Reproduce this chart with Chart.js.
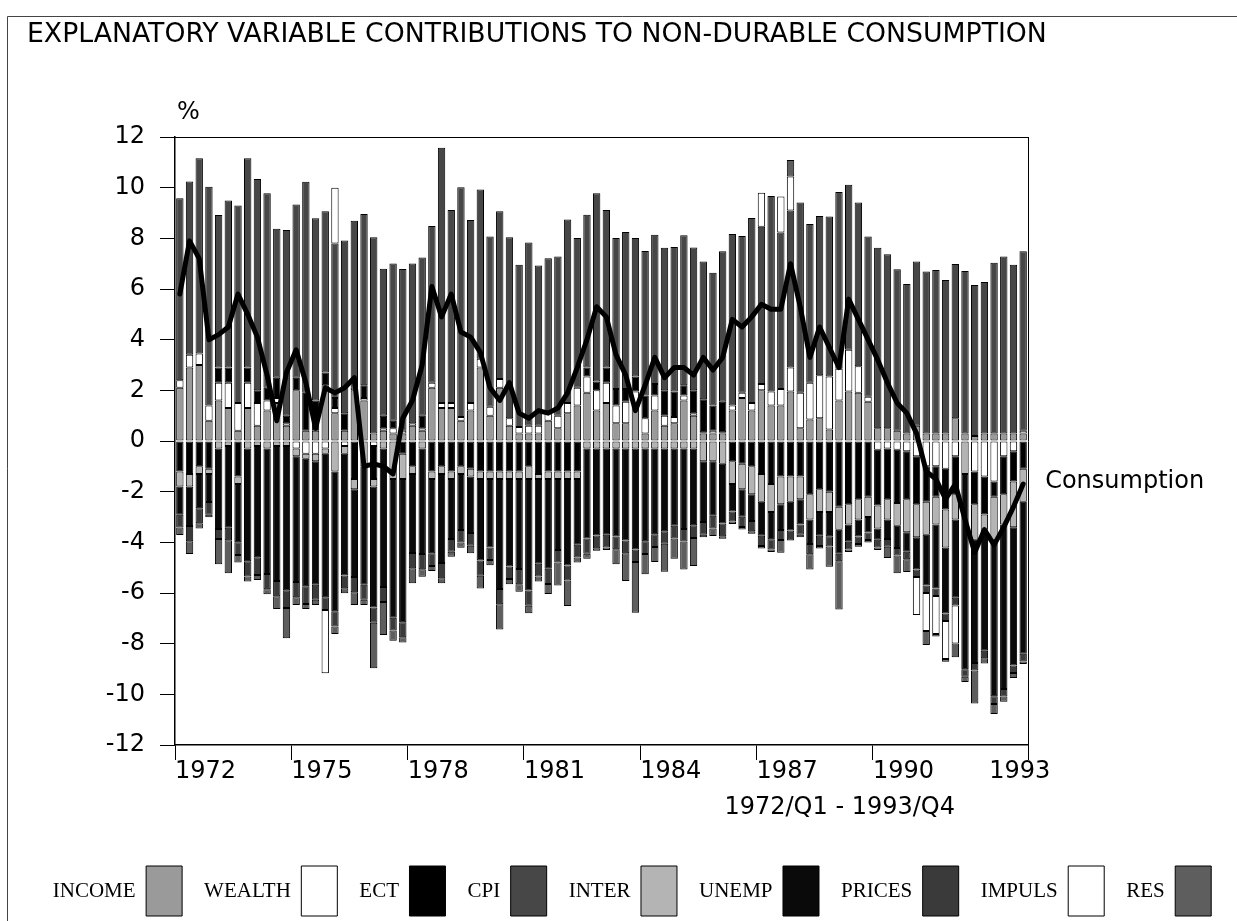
<!DOCTYPE html>
<html>
<head>
<meta charset="utf-8">
<title>Explanatory variable contributions to non-durable consumption</title>
<script src="https://cdn.jsdelivr.net/npm/chart.js@4.4.0/dist/chart.umd.min.js"></script>
<style>
  html, body { margin: 0; padding: 0; background: #fff; }
  canvas { display: block; }
</style>
</head>
<body>
<canvas id="chart" width="1237" height="921"></canvas>
<script>
// quarters 1972/Q1 - 1993/Q4
const years = ['1972', '1973', '1974', '1975', '1976', '1977', '1978', '1979', '1980', '1981', '1982',
  '1983', '1984', '1985', '1986', '1987', '1988', '1989', '1990', '1991', '1992', '1993'];
const quarters = ['Q1', 'Q2', 'Q3', 'Q4'];
const categories = years.flatMap(y => quarters.map(q => y + '/' + q));

// x tick labels (first quarter of every third year)
const yearLabels = ['1972', '1975', '1978', '1981', '1984', '1987', '1990', '1993'];
const yearTickPos = [0, 12, 24, 36, 48, 60, 72, 84];

// contributions, percentage points
const income = [2.1, 2.9, 3.0, 0.8, 1.6, 1.3, 0.4, 1.3, 0.6, 1.2,
  1.5, 0.6, 2.0, 0.4, 0.4, 2.2, 1.1, 0.4, 2.0, 1.6,
  0.3, 0.4, 0.3, 0.3, 0.6, 0.4, 2.1, 1.3, 1.3, 0.8,
  1.2, 2.9, 1.0, 2.1, 0.6, 0.3, 0.3, 0.3, 0.8, 0.5,
  1.1, 1.4, 1.9, 1.2, 1.5, 0.7, 0.7, 1.35, 0.3, 1.2,
  0.6, 0.7, 1.6, 1.0, 0.3, 0.3, 0.3, 1.2, 1.7, 1.2,
  2.0, 1.4, 1.4, 1.95, 0.5, 0.85, 0.9, 0.45, 1.6, 1.95,
  1.9, 1.55, 0.5, 0.5, 0.4, 0.3, 0.6, 0.3, 0.3, 0.3,
  0.9, 0.3, 0.2, 0.3, 0.3, 0.3, 0.3, 0.3];

const wealth = [0.3, 0.5, 0.45, 0.6, 0.7, 1.0, 1.1, 1.0, 0.9, 0.4,
  0.2, 0.1, -0.3, -0.5, -0.5, -0.3, 0.2, -0.2, 0.1, 0.1,
  -0.2, 0.1, 0.2, 0.1, 0.1, 0.1, 0.2, 0.2, 0.2, 0.15,
  0.3, 0.35, 0.35, 0.35, 0.3, 0.25, 0.3, 0.3, 0.3, 0.5,
  0.4, 0.7, 0.65, 0.8, 0.8, 0.7, 0.85, 0.6, 0.6, 0.6,
  0.4, 0.25, 0.2, 0.1, 0.05, 0.1, 0.05, 0.2, 0.2, 0.3,
  0.25, 0.55, 0.65, 0.95, 1.4, 1.45, 1.7, 2.1, 1.25, 1.65,
  1.05, 0.2, -0.35, -0.3, -0.35, -0.4, -0.6, -1.0, -1.0, -1.1,
  -0.6, null, -1.2, -1.4, -1.6, -0.6, -0.4, 0.1];

const ect = [-1.2, -1.3, -1.0, -1.1, 0.6, 0.6, -1.4, 0.6, 0.5, 0.5,
  0.8, 0.3, 0.5, 1.5, 1.2, 0.5, 0.4, 0.7, -1.5, 0.5,
  -1.3, 0.5, 0.3, -0.5, -1.0, 0.5, -1.2, -1.0, -1.2, -1.0,
  -1.1, -1.2, -1.2, -1.2, -1.2, -1.2, -1.0, -1.3, -1.2, -1.2,
  -1.2, -1.2, 0.35, 0.35, 0.6, 0.65, 0.5, 0.6, 0.9, 0.45,
  1.0, 1.0, 0.4, 0.9, 1.3, 1.0, 1.2, -0.8, -0.9, -1.0,
  -1.3, -1.7, -1.4, -1.4, -1.4, -2.1, -1.9, -2.0, -2.6, -2.5,
  -2.3, -2.2, -2.2, -2.0, -2.1, -1.9, -1.9, -1.4, -1.2, -1.6,
  -1.5, null, -1.3, -1.5, -0.6, -1.5, -1.2, -1.1];

const cpi = [7.18, 6.84, 7.71, 8.64, 6.02, 6.59, 7.8, 8.26, 8.34, 7.68,
  5.88, 7.33, 6.84, 8.33, 7.19, 6.37, 6.1, 6.81, 6.59, 6.76,
  7.74, 5.8, 6.21, 6.39, 6.31, 6.24, 6.19, 10.08, 7.62, 9.07,
  7.22, 6.68, 6.72, 6.62, 7.14, 6.41, 7.24, 6.33, 6.11, 6.28,
  7.24, 5.91, 6.03, 7.43, 6.22, 5.96, 6.2, 5.46, 5.7, 5.89,
  5.63, 5.71, 5.92, 5.64, 5.44, 5.24, 5.94, 6.77, 6.19, 7.3,
  6.21, 7.72, 6.18, 6.2, 7.51, 6.27, 6.28, 6.31, 6.98, 6.52,
  6.46, 6.32, 7.13, 6.87, 6.38, 5.9, 6.49, 6.39, 6.45, 6.06,
  6.09, 6.41, 5.96, 5.98, 6.74, 6.98, 6.66, 7.09];

const inter = [-0.6, -0.5, -0.3, -0.2, -0.3, -0.2, -0.3, -0.3, -0.2, -0.3,
  -0.2, -0.2, -0.3, -0.2, -0.3, -0.2, -1.2, -0.3, -0.4, -1.0,
  -0.3, -0.3, -1.5, -1.0, -0.3, -0.3, -0.3, -0.3, -0.3, -0.3,
  -0.3, -0.3, -0.3, -0.3, -0.3, -0.3, -0.5, -0.2, -0.3, -0.3,
  -0.3, -0.3, -0.3, -0.3, -0.3, -0.3, -0.3, -0.3, -0.3, -0.3,
  -0.3, -0.3, -0.3, -0.3, -0.8, -0.8, -0.9, -0.9, -1.0, -1.1,
  -1.1, -1.1, -1.1, -1.0, -0.9, -1.0, -0.9, -0.8, -0.9, -0.8,
  -0.8, -0.8, -0.9, -0.8, -0.9, -1.3, -1.3, -1.3, -1.1, -1.5,
  -1.0, -1.3, -1.4, -0.6, -1.7, -1.2, -1.8, -1.3];

const unemp = [-1.11, -1.56, -1.35, -1.11, -3.17, -3.22, -2.3, -4.45, -4.39, -4.95,
  -5.33, -5.69, -4.97, -5.03, -4.87, -5.67, -5.52, -4.81, -3.47, -4.67,
  -4.77, -5.46, -5.48, -5.65, -3.12, -4.16, -2.93, -3.52, -2.37, -2.21,
  -2.23, -3.22, -2.7, -4.34, -3.45, -3.55, -4.4, -3.35, -3.54, -2.8,
  -3.41, -2.6, -3.55, -3.43, -3.4, -3.47, -3.63, -3.98, -3.66, -3.38,
  -3.26, -3.05, -3.17, -3.03, -2.4, -2.15, -2.36, -1.08, -1.09, -1.06,
  -1.34, -1.08, -1.01, -1.13, -1.0, -0.97, -0.94, -0.96, -0.95, -0.68,
  -0.67, -0.61, -0.45, -0.77, -0.87, -0.77, -1.27, -2.0, -2.52, -2.61,
  -3.09, -7.71, -4.86, -4.78, -6.18, -6.49, -5.46, -6.0];

const prices = [-0.5, -0.6, -0.6, -0.5, -0.4, -0.5, -0.5, -0.6, -0.7, -0.6,
  -0.6, -0.7, -0.6, -0.7, -0.6, -0.5, -0.6, -0.5, -0.6, -0.6,
  -0.6, -0.6, -0.5, -0.6, -0.6, -0.6, -0.5, -0.6, -0.5, -0.5,
  -0.5, -0.6, -0.5, -0.6, -0.5, -0.6, -0.6, -0.5, -0.6, -0.5,
  -0.6, -0.5, -0.6, -0.5, -0.5, -0.5, -0.5, -0.5, -0.5, -0.5,
  -0.5, -0.5, -0.5, -0.5, -0.5, -0.5, -0.5, -0.4, -0.4, -0.4,
  -0.4, -0.4, -0.4, -0.4, -0.4, -0.4, -0.4, -0.4, -0.3, -0.3,
  -0.3, -0.3, -0.3, -0.3, -0.3, -0.3, -0.3, -0.3, -0.3, -0.3,
  -0.3, -0.3, -0.3, -0.3, -0.3, -0.3, -0.3, -0.3];

const impuls = [null, null, null, null, null, null, null, null, null, null,
  null, null, null, null, null, -2.5, 2.2, null, null, null,
  null, null, null, null, null, null, null, null, null, null,
  null, null, null, null, null, null, null, null, null, null,
  null, null, null, null, null, null, null, null, null, null,
  null, null, null, null, null, null, null, null, null, null,
  1.34, null, 1.42, 1.34, null, null, null, null, null, null,
  null, null, null, null, null, null, -1.5, -1.5, -1.5, -1.5,
  -1.5, null, null, null, null, null, null, null];

const res = [-0.3, -0.5, -0.2, -0.1, -1.0, -1.3, -0.3, -0.2, -0.2, -0.2,
  -0.5, -1.2, -0.3, -0.2, -0.2, null, -0.3, -0.2, -0.5, -0.2,
  -1.8, -1.3, -0.4, -0.2, -0.6, -0.3, -0.2, -0.2, -0.2, -0.2,
  -0.3, -0.5, -0.2, -1.0, -0.2, -0.3, -0.3, -0.2, -0.4, -0.9,
  -1.0, -0.2, -0.2, -0.1, -0.1, -0.6, -1.1, -2.0, -0.8, -0.6,
  -1.1, -0.8, -1.1, -1.1, -0.1, -0.3, -0.1, -0.1, -0.1, -0.1,
  -0.1, -0.1, -0.5, 0.65, -0.1, -0.6, -0.1, -0.8, -1.9, -0.1,
  -0.1, -0.1, -0.1, -0.45, -0.7, -0.5, null, -0.55, -0.1, -0.1,
  -0.55, -0.2, -1.3, -0.2, -0.4, -0.2, -0.2, -0.1];

// non-durable consumption growth, %
const consumption = [5.8, 7.9, 7.2, 4.0, 4.2, 4.5, 5.8, 5.0, 4.1, 2.6,
  0.8, 2.7, 3.6, 2.3, 0.5, 2.1, 1.9, 2.1, 2.5, -1.0,
  -0.9, -1.0, -1.3, 0.9, 1.6, 3.0, 6.1, 4.9, 5.8, 4.3,
  4.1, 3.5, 2.1, 1.6, 2.3, 1.1, 0.9, 1.2, 1.1, 1.3,
  1.9, 2.9, 4.0, 5.3, 4.9, 3.4, 2.6, 1.2, 2.2, 3.3,
  2.5, 2.9, 2.9, 2.6, 3.3, 2.8, 3.3, 4.8, 4.5, 4.9,
  5.4, 5.2, 5.2, 7.0, 5.3, 3.3, 4.5, 3.7, 2.9, 5.6,
  4.8, 4.0, 3.2, 2.3, 1.5, 1.1, 0.3, -1.2, -1.5, -2.3,
  -1.7, -3.1, -4.4, -3.5, -4.1, -3.4, -2.6, -1.7];

const titleText = 'EXPLANATORY VARIABLE CONTRIBUTIONS TO NON-DURABLE CONSUMPTION';
const periodText = '1972/Q1 - 1993/Q4';

const SANS = '"DejaVu Sans", "Liberation Sans", sans-serif';
const SERIF = '"Liberation Serif", "DejaVu Serif", serif';

// title is scaled to the width it has in the original
const mc = document.createElement('canvas').getContext('2d');
mc.font = '100px ' + SANS;
const titleSize = Math.round(1020 / mc.measureText(titleText).width * 1000) / 10;
const titleTop = 35 - titleSize * 0.6;

function bar(label, data, color) {
  return {
    type: 'bar', label: label, data: data, stack: 'contrib',
    backgroundColor: color, borderColor: '#000', borderWidth: 1, borderSkipped: false,
    barPercentage: 0.76, categoryPercentage: 1.0
  };
}

const textMarks = {
  id: 'textMarks',
  beforeDraw(chart) {
    const ctx = chart.ctx;
    ctx.save();
    ctx.fillStyle = '#fff';
    ctx.fillRect(0, 0, chart.width, chart.height);
    // outer frame of the figure
    ctx.strokeStyle = '#444';
    ctx.lineWidth = 1;
    ctx.beginPath();
    ctx.moveTo(7.5, chart.height);
    ctx.lineTo(7.5, 16.5);
    ctx.lineTo(chart.width, 16.5);
    ctx.stroke();
    ctx.restore();
  },
  afterDraw(chart) {
    const { ctx, chartArea } = chart;
    ctx.save();
    ctx.fillStyle = '#000';
    ctx.font = '24px ' + SANS;
    ctx.textBaseline = 'middle';
    ctx.textAlign = 'left';
    ctx.fillText('%', chartArea.left + 2, chartArea.top - 24);
    const pts = chart.getDatasetMeta(0).data;
    const last = pts[pts.length - 1];
    ctx.fillText('Consumption', last.x + 22, last.y - 2);
    ctx.textAlign = 'right';
    ctx.fillText(periodText, chartArea.right - 73, chartArea.bottom + 63);
    ctx.restore();
  }
};

new Chart(document.getElementById('chart'), {
  data: {
    labels: categories,
    datasets: [
      {
        type: 'line', label: 'Consumption', data: consumption, stack: 'cons',
        borderColor: '#000', borderWidth: 5, pointRadius: 0, fill: false, tension: 0,
        borderJoinStyle: 'round', borderCapStyle: 'round'
      },
      bar('INCOME', income, '#9a9a9a'),
      bar('WEALTH', wealth, '#ffffff'),
      bar('ECT', ect, '#000000'),
      bar('CPI', cpi, '#474747'),
      bar('INTER', inter, '#b4b4b4'),
      bar('UNEMP', unemp, '#0a0a0a'),
      bar('PRICES', prices, '#3a3a3a'),
      bar('IMPULS', impuls, '#ffffff'),
      bar('RES', res, '#5e5e5e')
    ]
  },
  options: {
    responsive: false,
    animation: false,
    devicePixelRatio: 1,
    events: [],
    layout: { padding: { left: 27, right: 0, top: 0, bottom: -5 } },
    scales: {
      x: {
        stacked: true,
        weight: 0,
        ticks: { display: false },
        grid: {
          drawOnChartArea: false, drawTicks: true, tickLength: 15, lineWidth: 1,
          color: (c) => (c.index === undefined || (c.index % 12 === 0 && c.index < 84)) ? '#000' : 'rgba(0,0,0,0)'
        },
        border: { color: '#000', width: 1.5 }
      },
      y: {
        stacked: true,
        min: -12, max: 12,
        ticks: { stepSize: 2, padding: 15, color: '#000', font: { family: SANS, size: 24 } },
        grid: { drawOnChartArea: false, tickLength: 15, color: '#000' },
        border: { color: '#000', width: 1.5 },
        afterFit: (s) => { s.width = 148; }
      },
      xl: {
        type: 'linear', position: 'bottom', weight: 1, min: 0, max: 88,
        afterBuildTicks: (s) => { s.ticks = yearTickPos.map(v => ({ value: v })); },
        afterFit: (s) => { s.height = 84; },
        grid: { display: false, drawTicks: false },
        border: { display: false },
        ticks: {
          autoSkip: false, maxRotation: 0, align: 'start', padding: -3, color: '#000',
          font: { family: SANS, size: 24 },
          callback: (v, i) => yearLabels[i]
        }
      },
      xt: {
        type: 'linear', position: 'top', min: 0, max: 1,
        ticks: { display: false },
        grid: { display: false, drawTicks: false },
        border: { color: '#000', width: 1 }
      },
      yr: {
        type: 'linear', position: 'right', min: 0, max: 1,
        ticks: { display: false },
        grid: { display: false, drawTicks: false },
        border: { color: '#000', width: 1 },
        afterFit: (s) => { s.width = 209; }
      }
    },
    plugins: {
      tooltip: { enabled: false },
      title: {
        display: true, text: titleText, align: 'start', color: '#000',
        font: { family: SANS, size: titleSize, weight: 'normal' },
        padding: { top: titleTop, bottom: 137 - titleTop - titleSize * 1.2 }
      },
      legend: {
        position: 'bottom', rtl: true, reverse: true,
        labels: {
          filter: (item) => item.datasetIndex !== 0,
          boxWidth: 36, boxHeight: 50, padding: 22, color: '#000',
          font: { family: SERIF, size: 21 }
        }
      }
    }
  },
  plugins: [textMarks]
});
</script>
</body>
</html>
